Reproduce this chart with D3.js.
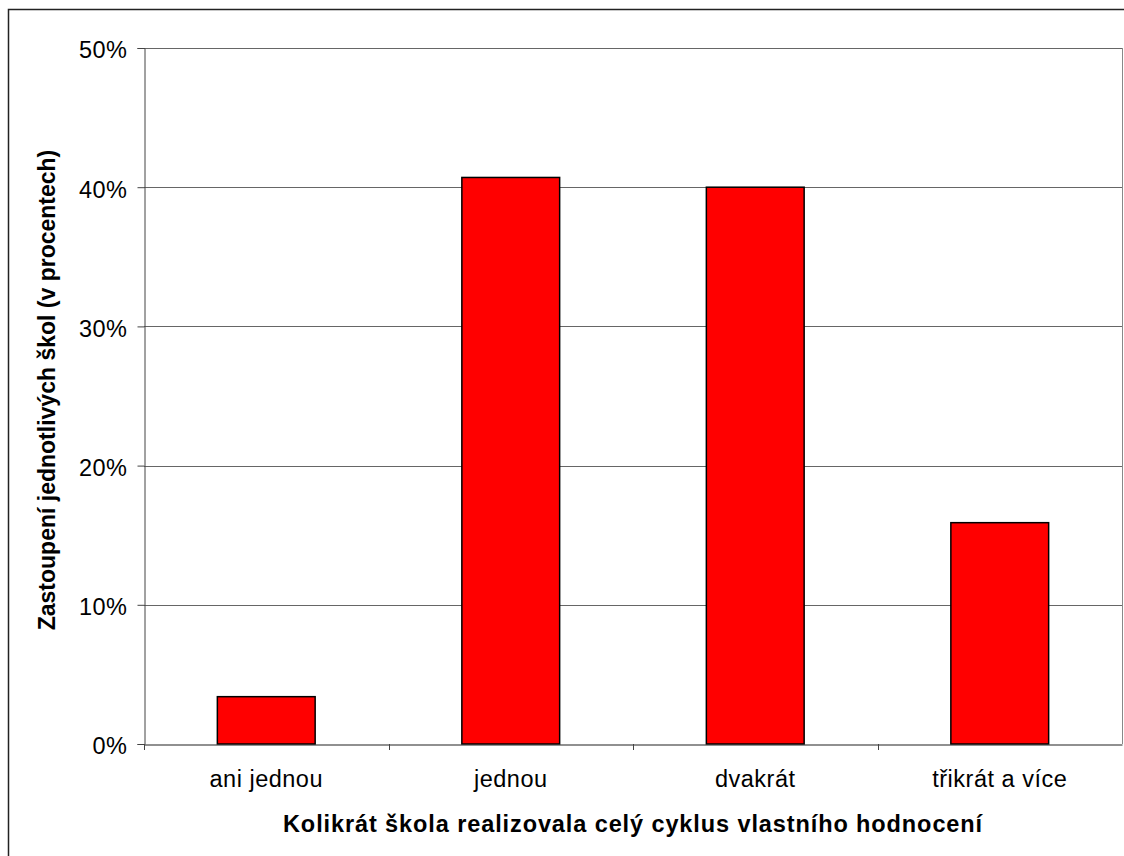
<!DOCTYPE html>
<html>
<head>
<meta charset="utf-8">
<script src="https://cdn.jsdelivr.net/npm/d3@7"></script>
<style>
  body { margin: 0; background: #fff; }
  svg text { font-family: "Liberation Sans", Arial, sans-serif; fill: #000; }
  .tick text { font-size: 23.5px; letter-spacing: 0.5px; }
  .axisTitle { font-weight: bold; }
</style>
</head>
<body>
<div id="chart"></div>
<script>
const categories = ["ani jednou", "jednou", "dvakrát", "třikrát a více"];
const values = [3.4, 40.7, 40.0, 15.9];
const yTicks = [0, 10, 20, 30, 40, 50];

const width = 1124, height = 856;
const margin = { top: 48, right: 2, bottom: 112, left: 144 };

const svg = d3.select("#chart").append("svg")
  .attr("width", width)
  .attr("height", height);

// outer frame (runs off the right and bottom edge)
svg.append("rect")
  .attr("x", 8.5).attr("y", 9.5)
  .attr("width", width).attr("height", height)
  .attr("fill", "none")
  .attr("stroke", "#222")
  .attr("stroke-width", 1.5);

const x = d3.scaleBand()
  .domain(categories)
  .range([margin.left, width - margin.right])
  .paddingInner(0.6)
  .paddingOuter(0.3);

const xTicks = d3.scaleBand()
  .domain(categories)
  .range([margin.left, width - margin.right]);

const y = d3.scaleLinear()
  .domain([0, 50])
  .range([height - margin.bottom, margin.top]);

// gridlines
svg.append("g")
  .selectAll("line")
  .data(yTicks.filter(d => d > 0))
  .enter()
  .append("line")
  .attr("x1", margin.left)
  .attr("x2", width - margin.right)
  .attr("y1", d => Math.round(y(d)) + 0.5)
  .attr("y2", d => Math.round(y(d)) + 0.5)
  .attr("stroke", "#666")
  .attr("stroke-width", 1);

// plot right border
svg.append("line")
  .attr("x1", width - margin.right + 0.5)
  .attr("x2", width - margin.right + 0.5)
  .attr("y1", y(50))
  .attr("y2", y(0))
  .attr("stroke", "#888");

// bars
svg.selectAll("rect.bar")
  .data(values)
  .enter()
  .append("rect")
  .attr("class", "bar")
  .attr("x", (d, i) => x(categories[i]))
  .attr("width", x.bandwidth())
  .attr("y", d => y(d))
  .attr("height", d => y(0) - y(d))
  .attr("fill", "#ff0000")
  .attr("stroke", "#000")
  .attr("stroke-width", 1.5);

// y axis
const yAxis = d3.axisLeft(y)
  .tickValues(yTicks)
  .tickSize(7)
  .tickPadding(10)
  .tickFormat(d => d + "%");

svg.append("g")
  .attr("class", "axis yAxis")
  .attr("transform", `translate(${margin.left + 0.5}, 0)`)
  .call(yAxis)
  .call(g => g.selectAll("path, line").attr("stroke", "#444"))
  .call(g => g.selectAll("text").attr("dy", "0.42em"));

// x axis
const xAxis = d3.axisBottom(xTicks)
  .tickSize(0)
  .tickPadding(26);

const xg = svg.append("g")
  .attr("class", "axis xAxis")
  .attr("transform", `translate(0, ${y(0) + 0.5})`)
  .call(xAxis);
xg.select(".domain").attr("stroke", "#222").attr("stroke-width", 1.2);

// category separator ticks
svg.append("g")
  .selectAll("line")
  .data(categories)
  .enter()
  .append("line")
  .attr("x1", d => Math.round(xTicks(d)) + 0.5)
  .attr("x2", d => Math.round(xTicks(d)) + 0.5)
  .attr("y1", y(0))
  .attr("y2", y(0) + 6)
  .attr("stroke", "#444");

// axis titles
svg.append("text")
  .attr("class", "axisTitle")
  .attr("x", (margin.left + width - margin.right) / 2)
  .attr("y", 832)
  .attr("text-anchor", "middle")
  .style("font-size", "23.5px")
  .style("letter-spacing", "0.9px")
  .text("Kolikrát škola realizovala celý cyklus vlastního hodnocení");

svg.append("text")
  .attr("class", "axisTitle")
  .attr("transform", `translate(55, ${(y(0) + y(50)) / 2 - 6}) rotate(-90)`)
  .attr("text-anchor", "middle")
  .style("font-size", "23px")
  .text("Zastoupení jednotlivých škol (v procentech)");
</script>
</body>
</html>
